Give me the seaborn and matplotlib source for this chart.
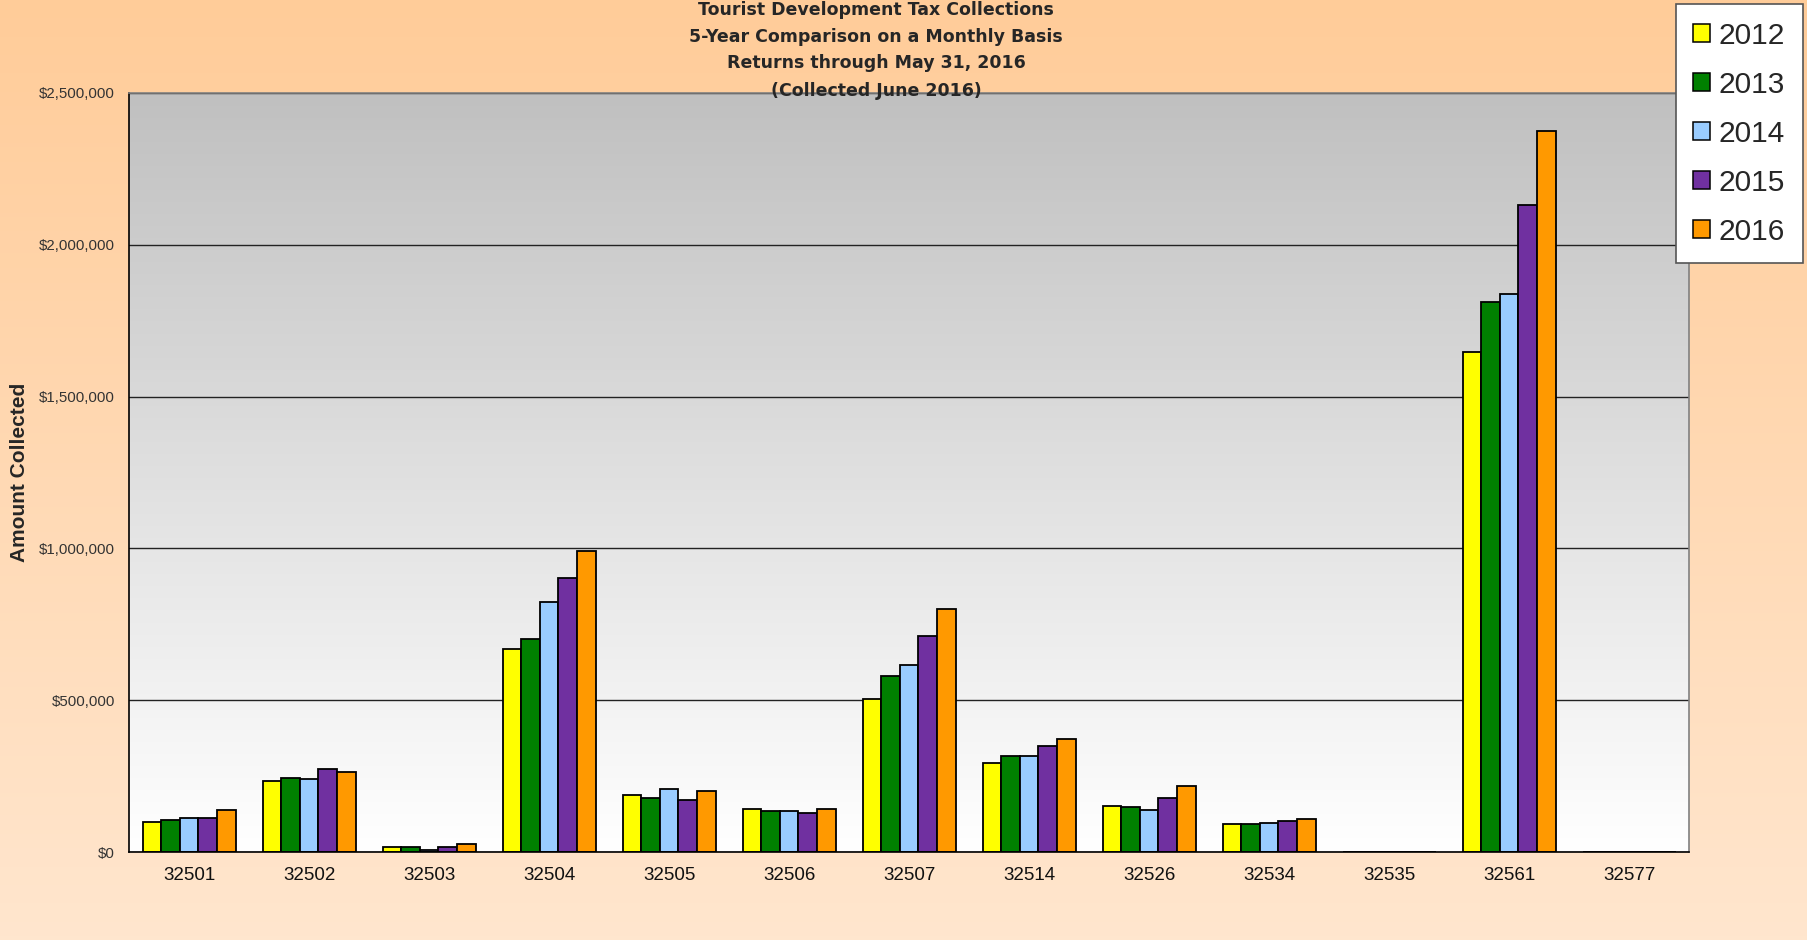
import numpy as np
import pandas as pd
import seaborn as sns
import matplotlib.pyplot as plt
from matplotlib.patches import Patch
from matplotlib.ticker import FuncFormatter, FixedLocator

# zip codes and yearly collections
zips = ['32501', '32502', '32503', '32504', '32505', '32506', '32507',
        '32514', '32526', '32534', '32535', '32561', '32577']
years = ['2012', '2013', '2014', '2015', '2016']
y2012 = [100000, 235000, 15000, 668000, 187000, 143000, 504000, 293000, 152000, 91000, 1000, 1647000, 1000]
y2013 = [106000, 245000, 15000, 702000, 177000, 134000, 580000, 317000, 149000, 93000, 1000, 1812000, 1000]
y2014 = [111000, 241000, 7000, 825000, 208000, 136000, 617000, 315000, 138000, 96000, 1000, 1837000, 0]
y2015 = [112000, 272000, 17000, 903000, 171000, 129000, 712000, 349000, 177000, 103000, 1000, 2131000, 1000]
y2016 = [139000, 262000, 25000, 993000, 200000, 142000, 801000, 372000, 217000, 108000, 1000, 2374000, 1000]
colors = ['#FFFF00', '#008000', '#99CCFF', '#7030A0', '#FF9900']
title_lines = ['Tourist Development Tax Collections',
               '5-Year Comparison on a Monthly Basis',
               'Returns through May 31, 2016',
               '(Collected June 2016)']

df = pd.DataFrame({'zip': zips * 5,
                   'year': sum([[y] * len(zips) for y in years], []),
                   'amount': y2012 + y2013 + y2014 + y2015 + y2016})

sns.set_style('white')
plt.rcParams['font.family'] = ['Liberation Sans', 'DejaVu Sans']

fig = plt.figure(figsize=(18.08, 9.40), dpi=100)

# peach gradient behind everything
bg = fig.add_axes([0, 0, 1, 1], zorder=-10)
grad = np.linspace(0, 1, 256).reshape(-1, 1)
top_c = np.array([255, 204, 153]) / 255
bot_c = np.array([255, 230, 206]) / 255
bg.imshow(top_c + grad[..., None] * (bot_c - top_c), aspect='auto', extent=[0, 1, 0, 1])
bg.axis('off')

ax = fig.add_axes([0.0714, 0.0936, 0.8628, 0.8075])
ax.patch.set_alpha(0)
g_top = np.array([192, 192, 192]) / 255
g_bot = np.array([255, 255, 255]) / 255
ax.imshow(g_top + grad[..., None] * (g_bot - g_top), aspect='auto',
          extent=[-0.5, 12.5, 0, 2500000], zorder=0)

sns.barplot(data=df, x='zip', y='amount', hue='year', palette=colors,
            saturation=1, width=0.775, edgecolor='black', linewidth=1.3,
            ax=ax, legend=False, zorder=2)

ax.set_xlim(-0.5, 12.5)
ax.set_ylim(0, 2500000)
ax.set_yticks(np.arange(0, 2500001, 500000))
ax.yaxis.set_major_formatter(FuncFormatter(lambda v, p: '${:,.0f}'.format(v)))
ax.grid(axis='y', color='#222222', linewidth=1.0)
ax.set_axisbelow(True)

ax.xaxis.set_minor_locator(FixedLocator(np.arange(-0.5, 12.6, 1)))
ax.tick_params(axis='x', which='major', length=0, labelsize=13.5, pad=11, colors='#111111')
ax.tick_params(axis='x', which='minor', length=6, width=1, color='black', direction='out')
ax.tick_params(axis='y', length=6, width=1, color='black', direction='out',
               labelsize=10.8, pad=4)
ax.tick_params(axis='y', labelcolor='#333333')

for s in ['left', 'bottom']:
    ax.spines[s].set_color('black')
    ax.spines[s].set_linewidth(1.2)
for s in ['top', 'right']:
    ax.spines[s].set_color('#808080')
    ax.spines[s].set_linewidth(1.2)

ax.set_xlabel('')
ax.set_ylabel('Amount Collected', fontsize=15, fontweight='bold')
ax.yaxis.set_label_coords(-0.064, 0.5)

for line, yy in zip(title_lines, [0.9890, 0.9607, 0.9326, 0.9035]):
    fig.text(0.4845, yy, line, ha='center', va='center', fontsize=12.5,
             fontweight='bold', family=['DejaVu Sans'])

handles = [Patch(facecolor=c, edgecolor='black', linewidth=1.1) for c in colors]
leg = fig.legend(handles, years, loc='upper right', bbox_to_anchor=(0.9973, 0.9957),
                 fontsize=21.5, frameon=True, fancybox=False, framealpha=1,
                 edgecolor='#555555', handlelength=0.55, handleheight=0.55,
                 handletextpad=0.3, labelspacing=0.70, borderpad=0.6,
                 borderaxespad=0)
leg.get_frame().set_linewidth(1.2)

fig.savefig('out.png', dpi=100)
